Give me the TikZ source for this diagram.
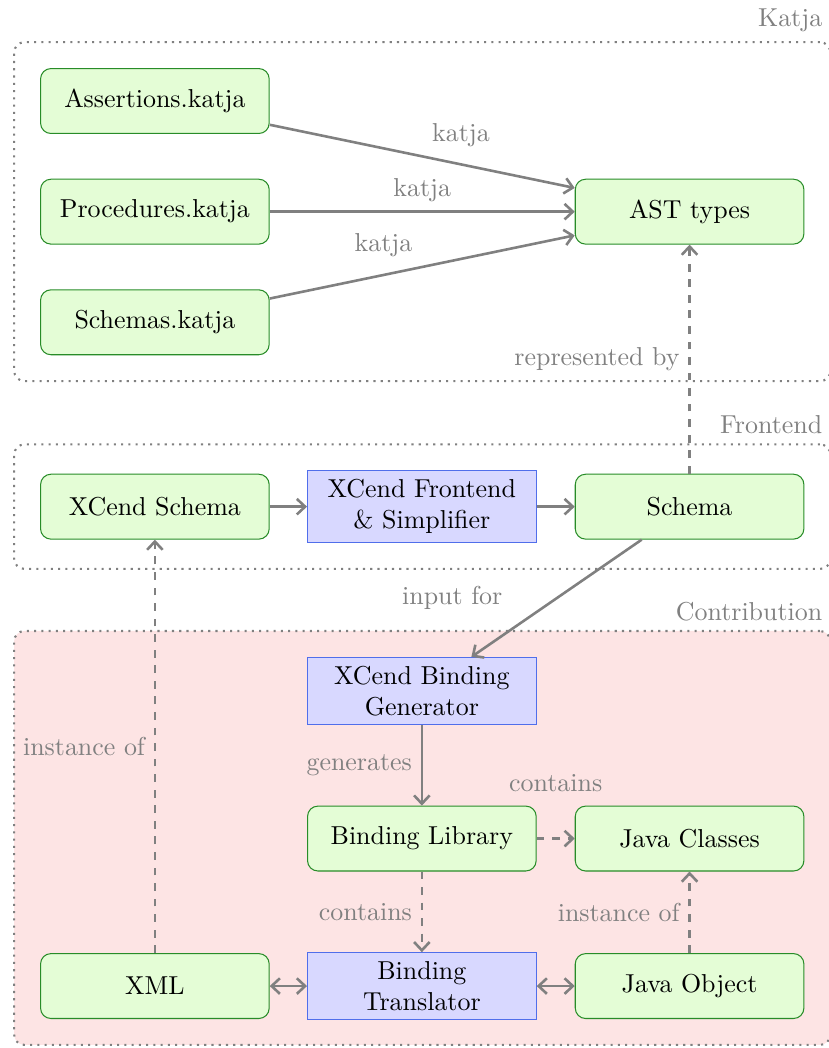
\documentclass[tikz,border=0pt]{standalone}
\usetikzlibrary{positioning,fit,backgrounds,arrows.meta}

\definecolor{filegreen}{RGB}{228,253,214}
\definecolor{filegreendraw}{RGB}{40,140,40}
\definecolor{toolblue}{RGB}{216,216,255}
\definecolor{toolbluedraw}{RGB}{80,110,235}
\definecolor{contribred}{RGB}{253,228,228}

\begin{document}
\begin{tikzpicture}[
  file/.style={rectangle, rounded corners, draw=filegreendraw, fill=filegreen,
    minimum width=3.1cm, minimum height=0.88cm},
  tool/.style={rectangle, draw=toolbluedraw, fill=toolblue, minimum width=3.1cm, align=center},
  group/.style={draw=gray, thick, dotted, rounded corners, inner sep=10pt},
  grouplabel/.style={text=gray, anchor=south east},
  flow/.style={->, line width=1pt, gray},
  rel/.style={flow, dashed},
  lbl/.style={text=gray},
  >={Straight Barb[length=3.2pt, width=6pt]}
]
  \useasboundingbox (-2.1,1.37) rectangle (9.14,-12.84);

  % Katja files
  \node[file] (assert)  at (0,0)       {Assertions.katja};
  \node[file] (proc)    at (0,-1.5)    {Procedures.katja};
  \node[file] (schemas) at (0,-3)      {Schemas.katja};
  \node[file] (ast)     at (7.25,-1.5) {AST types};

  % Frontend
  \node[file] (xschema)  at (0,-5.5)    {XCend Schema};
  \node[tool] (frontend) at (3.62,-5.5) {XCend Frontend\\ \& Simplifier};
  \node[file] (schema)   at (7.25,-5.5) {Schema};

  % Contribution
  \node[tool] (generator)  at (3.62,-8)  {XCend Binding\\ Generator};
  \node[file] (library)    at (3.62,-10) {Binding Library};
  \node[file] (classes)    at (7.25,-10) {Java Classes};
  \node[file] (xml)        at (0,-12)    {XML};
  \node[tool] (translator) at (3.62,-12) {Binding\\ Translator};
  \node[file] (object)     at (7.25,-12) {Java Object};

  % Groups
  \begin{scope}[on background layer]
    \node[group, fit=(assert)(schemas)(ast)] (katja) {};
    \node[group, fit=(xschema)(frontend)(schema)] (front) {};
    \node[group, fill=contribred, fit=(generator)(xml)(object)] (contrib) {};
  \end{scope}
  \node[grouplabel] (katjalbl)   at (katja.north east)   {Katja};
  \node[grouplabel] (frontlbl)   at (front.north east)   {Frontend};
  \node[grouplabel] (contriblbl) at (contrib.north east) {Contribution};

  \draw[flow] (assert)  -- node[lbl, auto] {katja} (ast);
  \draw[flow] (proc)    -- node[lbl, auto] {katja} (ast);
  \draw[flow] (schemas) -- node[lbl, auto] {katja} (ast);
  \draw[rel] (schema) -- node[lbl, auto] {represented by} (ast);

  \draw[flow] (xschema) -- (frontend);
  \draw[flow] (frontend) -- (schema);
  \draw[flow] (schema) -- node[lbl, left=6mm] {input for} (generator);

  \draw[flow] (generator) -- node[lbl, left] {generates} (library);
  \draw[rel] (library) -- node[lbl, above=5mm] {contains} (classes);
  \draw[rel] (library) -- node[lbl, left] {contains} (translator);
  \draw[rel] (object) -- node[lbl, left] {instance of} (classes);
  \draw[rel] (xml) -- node[lbl, left] {instance of} (xschema);
  \draw[flow, <->] (xml) -- (translator);
  \draw[flow, <->] (translator) -- (object);
\end{tikzpicture}
\end{document}
